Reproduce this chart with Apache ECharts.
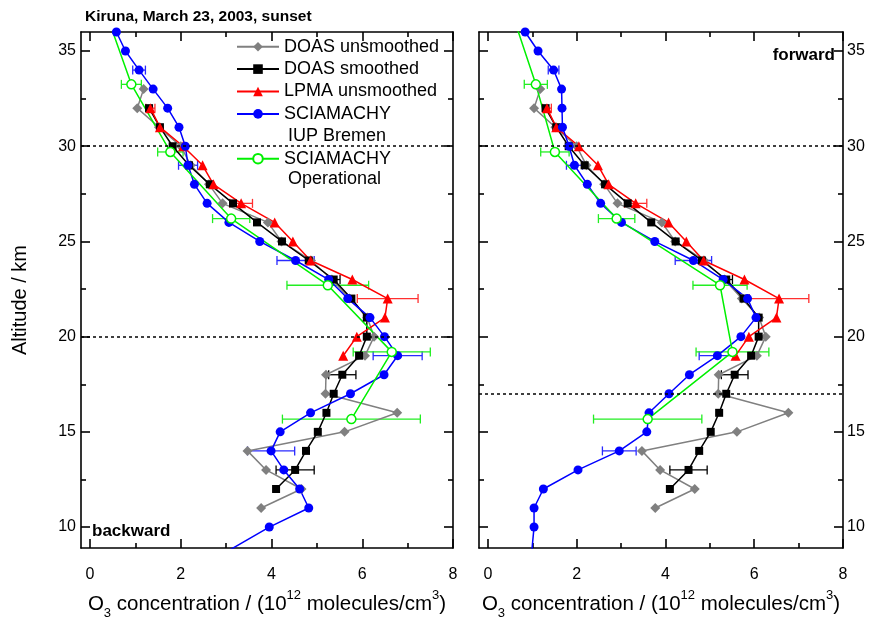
<!DOCTYPE html>
<html><head><meta charset="utf-8">
<script src="https://cdn.jsdelivr.net/npm/echarts@6/dist/echarts.min.js"></script>
<style>html,body{margin:0;padding:0;background:#fff}#c{width:885px;height:620px}</style>
</head><body><div id="c"></div>
<script>
// ---------- DATA ----------
// DOAS (same measurement in both panels)
const doasUnsAlt = [33,32,31,30,29,28,27,26,25,24,23,22,21,20,19,18,17,16,15,14,13,12,11];
const doasUns    = [1.18,1.04,1.52,2.00,2.22,2.62,2.92,3.92,4.22,4.87,5.33,5.72,6.11,6.26,6.06,5.20,5.19,6.77,5.61,3.47,3.88,4.66,3.77];
const doasSmAlt  = [32,31,30,29,28,27,26,25,24,23,22,21,20,19,18,17,16,15,14,13,12];
const doasSm     = [1.30,1.54,1.82,2.18,2.64,3.15,3.68,4.23,4.82,5.37,5.76,6.10,6.10,5.93,5.56,5.37,5.21,5.02,4.76,4.52,4.10];
const doasSmErrAlt = [23,18,13];
const doasSmErr    = [0.14,0.30,0.42];
// LPMA
const lpmaAlt = [32,31,30,29,28,27,26,25,24,23,22,21,20,19];
const lpma    = [1.33,1.54,2.05,2.48,2.72,3.33,4.07,4.47,4.86,5.78,6.56,6.50,5.88,5.58];
const lpmaErrAlt = [32,27,22];
const lpmaErr    = [0.10,0.25,0.67];
// SCIAMACHY IUP Bremen
const iupAlt      = [36,35,34,33,32,31,30,29,28,27,26,25,24,23,22,21,20,19,18,17,16,15,14,13,12,11,10,8];
const iupBack     = [0.58,0.78,1.08,1.39,1.71,1.96,2.10,2.16,2.30,2.58,3.06,3.74,4.53,5.26,5.68,6.17,6.49,6.78,6.48,5.74,4.86,4.19,3.99,4.27,4.62,4.82,3.95,2.50];
const iupFwd      = [0.84,1.13,1.48,1.66,1.67,1.68,1.83,1.95,2.24,2.54,3.01,3.76,4.63,5.30,5.85,6.04,5.70,5.17,4.54,4.08,3.63,3.58,2.96,2.03,1.25,1.04,1.04,0.96];
const iupErrAlt   = [34,29,24,19,14];
const iupErrBack  = [0.14,0.21,0.41,0.54,0.52];
const iupErrFwd   = [0.12,0.18,0.41,0.41,0.38];
// SCIAMACHY Operational
const opAlt     = [36.75,33.25,29.7,26.2,22.7,19.2,15.67];
const opBack    = [0.39,0.91,1.77,3.11,5.24,6.65,5.76];
const opFwd     = [0.58,1.08,1.51,2.90,5.23,5.51,3.60];
const opErrBack = [0,0.22,0.28,0.41,0.90,0.85,1.52];
const opErrFwd  = [0,0.26,0.32,0.41,0.61,0.82,1.22];
// reference lines
const refLinesBack = [30,20];
const refLinesFwd  = [30,17];
// ticks
const xMajor = [0,2,4,6,8];
const xMinor = [1,3,5,7];
const yMajor = [10,15,20,25,30,35];
const yMinor = [12.5,17.5,22.5,27.5,32.5];

const names = ['DOAS unsmoothed','DOAS smoothed','LPMA unsmoothed','SCIAMACHY IUP Bremen','SCIAMACHY Operational'];
const FONT = '"Liberation Sans", Arial, sans-serif';

// ---------- BUILD ----------
const pairs = (xs, alts) => xs.map((v,i)=>[v, alts[i]]);
const trip = (xs, alts, errs) => xs.map((v,i)=>[v, alts[i], errs[i]]);
const lookup = (alts, xs, a) => xs[alts.indexOf(a)];

function errSeries(name, color, data, xi, yi){
  return {
    type:'custom', name: name+' err', xAxisIndex:xi, yAxisIndex:yi, z:1, silent:true,
    clip:true,
    encode:{x:0,y:1},
    data: data.filter(d=>d[2]>0),
    renderItem:function(params, api){
      const x=api.value(0), y=api.value(1), e=api.value(2);
      const p1=api.coord([x-e,y]), p2=api.coord([x+e,y]);
      const h=4.5, st={stroke:color, lineWidth:1.3};
      return {type:'group', children:[
        {type:'line', shape:{x1:p1[0],y1:p1[1],x2:p2[0],y2:p2[1]}, style:st},
        {type:'line', shape:{x1:p1[0],y1:p1[1]-h,x2:p1[0],y2:p1[1]+h}, style:st},
        {type:'line', shape:{x1:p2[0],y1:p2[1]-h,x2:p2[0],y2:p2[1]+h}, style:st}
      ]};
    }
  };
}
function lineSeries(name, data, xi, yi, opt){
  return Object.assign({
    type:'line', name:name, xAxisIndex:xi, yAxisIndex:yi, data:data,
    clip:true, animation:false, z:3
  }, opt);
}
const styles = {
  'DOAS unsmoothed': {color:'#808080', symbol:'diamond', symbolSize:10, lineStyle:{color:'#808080',width:1.5}, itemStyle:{color:'#808080'}},
  'DOAS smoothed':   {color:'#000000', symbol:'rect', symbolSize:8, lineStyle:{color:'#000',width:1.5}, itemStyle:{color:'#000'}},
  'LPMA unsmoothed': {color:'#ff0000', symbol:'triangle', symbolSize:10, lineStyle:{color:'#ff0000',width:1.5}, itemStyle:{color:'#ff0000'}},
  'SCIAMACHY IUP Bremen': {color:'#0000ff', symbol:'circle', symbolSize:9, lineStyle:{color:'#0000ff',width:1.5}, itemStyle:{color:'#0000ff'}},
  'SCIAMACHY Operational': {color:'#00f000', symbol:'circle', symbolSize:9, showAllSymbol:true, lineStyle:{color:'#00f000',width:1.5}, itemStyle:{color:'#ffffff', borderColor:'#00f000', borderWidth:1.5}}
};

function panelSeries(xi, yi, iup, iupErr, op, opErr, refs){
  const s = [];
  s.push(errSeries('blue', '#2a2aff', trip(iupErrAlt.map(a=>lookup(iupAlt, iup, a)), iupErrAlt, iupErr), xi, yi));
  s.push(errSeries('green', '#22ee22', trip(op, opAlt, opErr), xi, yi));
  s.push(errSeries('black', '#000000', trip(doasSmErrAlt.map(a=>lookup(doasSmAlt, doasSm, a)), doasSmErrAlt, doasSmErr), xi, yi));
  s.push(errSeries('red', '#ff3030', trip(lpmaErrAlt.map(a=>lookup(lpmaAlt, lpma, a)), lpmaErrAlt, lpmaErr), xi, yi));
  s.push(lineSeries(names[0], pairs(doasUns, doasUnsAlt), xi, yi, Object.assign({
    markLine:{silent:true, symbol:'none', label:{show:false}, animation:false,
      lineStyle:{color:'#000', type:[3,3], width:1.5},
      data: refs.map(v=>({yAxis:v}))}
  }, styles[names[0]])));
  s.push(lineSeries(names[1], pairs(doasSm, doasSmAlt), xi, yi, styles[names[1]]));
  s.push(lineSeries(names[2], pairs(lpma, lpmaAlt), xi, yi, styles[names[2]]));
  s.push(lineSeries(names[3], pairs(iup, iupAlt), xi, yi, styles[names[3]]));
  s.push(lineSeries(names[4], pairs(op, opAlt), xi, yi, styles[names[4]]));
  return s;
}

const XMIN=-0.2, XMAX=8, YMIN=8.9, YMAX=36;
const axisLineStyle = {color:'#000', width:1.6};
function xAx(grid, pos, vals, len, label, line, name){
  return {type:'value', gridIndex:grid, position:pos, min:XMIN, max:XMAX,
    axisLine:{show:line, onZero:false, lineStyle:axisLineStyle},
    axisTick:{show:true, inside:true, length:len, customValues:vals, lineStyle:{color:'#000', width:1.6}},
    axisLabel:{show:label, customValues:vals, margin:19, color:'#000', fontSize:16, fontFamily:FONT},
    splitLine:{show:false},
    name: name || '', nameLocation:'middle', nameGap:44,
    nameTextStyle:{color:'#000', fontSize:20.5, fontFamily:FONT,
      rich:{
        n:{fontSize:20.5, fontFamily:FONT, color:'#000', lineHeight:24},
        sub:{fontSize:13, fontFamily:FONT, color:'#000', verticalAlign:'bottom', lineHeight:24, padding:[0,0,-4,0]},
        sup:{fontSize:13, fontFamily:FONT, color:'#000', verticalAlign:'top', lineHeight:24, padding:[-3,0,0,0]}
      }}
  };
}
function yAx(grid, pos, vals, len, label, line){
  return {type:'value', gridIndex:grid, position:pos, min:YMIN, max:YMAX,
    axisLine:{show:line, onZero:false, lineStyle:axisLineStyle},
    axisTick:{show:true, inside:true, length:len, customValues:vals, lineStyle:{color:'#000', width:1.6}},
    axisLabel:{show:label, customValues:vals, margin:pos==='left'?5:4, padding:[3,0,0,0], color:'#000', fontSize:16, fontFamily:FONT},
    splitLine:{show:false}
  };
}
const xName = '{n|O}{sub|3}{n| concentration / (10}{sup|12}{n| molecules/cm}{sup|3}{n|)}';
const xAxes = [], yAxes = [];
for (let g=0; g<2; g++){
  xAxes.push(xAx(g,'bottom',xMajor,9,true,true,xName));   // 0 / 4
  xAxes.push(xAx(g,'bottom',xMinor,5,false,false));
  xAxes.push(xAx(g,'top',xMajor,9,false,true));
  xAxes.push(xAx(g,'top',xMinor,5,false,false));
  yAxes.push(yAx(g,'left',yMajor,9,g===0,true));          // 0 / 4
  yAxes.push(yAx(g,'left',yMinor,5,false,false));
  yAxes.push(yAx(g,'right',yMajor,9,g===1,true));
  yAxes.push(yAx(g,'right',yMinor,5,false,false));
}

const series = [].concat(
  panelSeries(0, 0, iupBack, iupErrBack, opBack, opErrBack, refLinesBack),
  panelSeries(4, 4, iupFwd, iupErrFwd, opFwd, opErrFwd, refLinesFwd)
);

const legendBase = {
  orient:'vertical', left:236, padding:0, itemGap:0, itemWidth:42, itemHeight:12,
  selectedMode:false,
  formatter: n => n.indexOf('SCIAMACHY')===0 ? 'SCIAMACHY' : n,
  textStyle:{color:'#000', fontSize:18, fontFamily:FONT, lineHeight:22.4}
};

const option = {
  animation:false,
  backgroundColor:'#fff',
  title:{text:'Kiruna, March 23, 2003, sunset', left:80, top:4,
    textStyle:{fontSize:15.5, fontWeight:'bold', color:'#000', fontFamily:FONT}},
  grid:[
    {left:81, top:32, width:372, height:516, outerBoundsMode:'none', containLabel:false},
    {left:479, top:32, width:364, height:516, outerBoundsMode:'none', containLabel:false}
  ],
  legend:[
    Object.assign({}, legendBase, {top:35.5, data:names.slice(0,4)}),
    Object.assign({}, legendBase, {top:147.5, data:[names[4]]})
  ],
  xAxis:xAxes,
  yAxis:yAxes,
  series:series,
  graphic:[
    {type:'text', left:288, top:127, style:{text:'IUP Bremen', fontSize:18, fontFamily:FONT, fill:'#000'}},
    {type:'text', left:288, top:170, style:{text:'Operational', fontSize:18, fontFamily:FONT, fill:'#000'}},
    {type:'text', left:92, top:523, style:{text:'backward', fontSize:17, fontWeight:'bold', fontFamily:FONT, fill:'#000'}},
    {type:'text', right:50, top:47, style:{text:'forward', fontSize:17, fontWeight:'bold', fontFamily:FONT, fill:'#000'}},
    {type:'text', x:20, y:300, rotation:Math.PI/2, style:{text:'Altitude / km', fontSize:20, fontFamily:FONT, fill:'#000', align:'center', verticalAlign:'middle'}}
  ]
};
const chart = echarts.init(document.getElementById('c'), null, {renderer:'canvas'});
chart.setOption(option);
</script>
</body></html>
